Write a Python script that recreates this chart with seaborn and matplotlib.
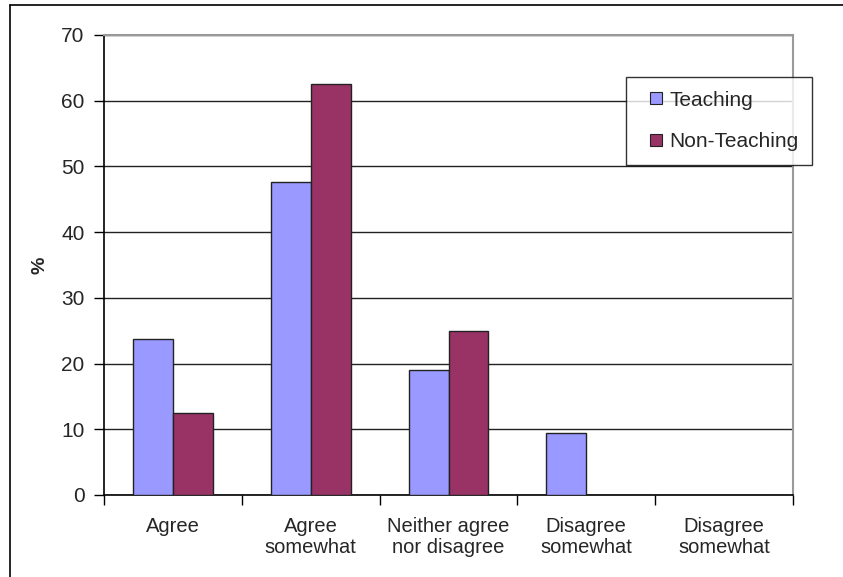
import matplotlib
matplotlib.use("Agg")
import matplotlib.pyplot as plt
import seaborn as sns
import pandas as pd
from matplotlib.lines import Line2D

categories = ["Agree", "Agree\nsomewhat", "Neither agree\nnor disagree",
              "Disagree\nsomewhat", "Disagree\nsomewhat "]
tick_labels = ["Agree", "Agree\nsomewhat", "Neither agree\nnor disagree",
               "Disagree\nsomewhat", "Disagree\nsomewhat"]
teaching = [23.8, 47.6, 19.0, 9.5, 0.0]
non_teaching = [12.5, 62.5, 25.0, 0.0, 0.0]
series = ["Teaching", "Non-Teaching"]
colors = {"Teaching": "#9999FF", "Non-Teaching": "#993366"}

df = pd.DataFrame({
    "category": categories * 2,
    "value": teaching + non_teaching,
    "group": [series[0]] * len(categories) + [series[1]] * len(categories),
})

sns.set_style("white")
plt.rcParams["font.family"] = ["Liberation Sans", "DejaVu Sans"]

fig = plt.figure(figsize=(8.43, 5.77), dpi=100)
ax = fig.add_axes([104/843, 1-495/577, (793-104)/843, (495-35)/577])

sns.barplot(data=df, x="category", y="value", hue="group", order=categories,
            hue_order=series, palette=colors, saturation=1, width=0.58, gap=0,
            edgecolor="#222222", linewidth=1.0, ax=ax, legend=False, zorder=3)

ax.set_xlim(-0.5, 4.5)
ax.set_ylim(0, 70)
ax.set_yticks(range(0, 71, 10))
ax.yaxis.grid(True, color="#222222", linewidth=1.0, zorder=0)
ax.set_axisbelow(True)
ax.tick_params(axis="y", direction="out", length=7, width=1, color="black",
               labelsize=15, pad=7, left=True)
ax.set_xticks(range(len(categories)))
ax.set_xticklabels(tick_labels, fontsize=14.5, linespacing=1.1)
ax.tick_params(axis="x", which="major", length=0, pad=16)
ax.set_xticks([i - 0.5 for i in range(len(categories) + 1)], minor=True)
ax.tick_params(axis="x", which="minor", direction="out", length=7, width=1,
               color="black", bottom=True)
ax.set_xlabel("")
ax.set_ylabel("%", fontsize=14, fontweight="bold", labelpad=9)

for s in ["left", "bottom"]:
    ax.spines[s].set_color("black")
    ax.spines[s].set_linewidth(1.2)
for s in ["top", "right"]:
    ax.spines[s].set_color("#999999")
    ax.spines[s].set_linewidth(1.5)
    ax.spines[s].set_visible(True)

handles = [Line2D([], [], linestyle="none", marker="s", markersize=8,
                  markerfacecolor=colors[s], markeredgecolor="#222222",
                  markeredgewidth=0.8, label=s) for s in series]
leg = fig.legend(handles=handles, loc="upper left",
                 bbox_to_anchor=(626/843, 1-77/577), frameon=True, fancybox=False,
                 shadow=False, fontsize=15, handlelength=1.54,
                 handletextpad=-0.1, labelspacing=1.1, borderpad=0.65,
                 borderaxespad=0)
leg.get_frame().set_edgecolor("black")
leg.get_frame().set_linewidth(1.0)

fig.add_artist(Line2D([10/843, 10/843], [0, 1-5/577], color="black", lw=1.2,
                      transform=fig.transFigure))
fig.add_artist(Line2D([10/843, 1], [1-5/577, 1-5/577], color="black", lw=1.2,
                      transform=fig.transFigure))

fig.savefig("out.png", dpi=100)
